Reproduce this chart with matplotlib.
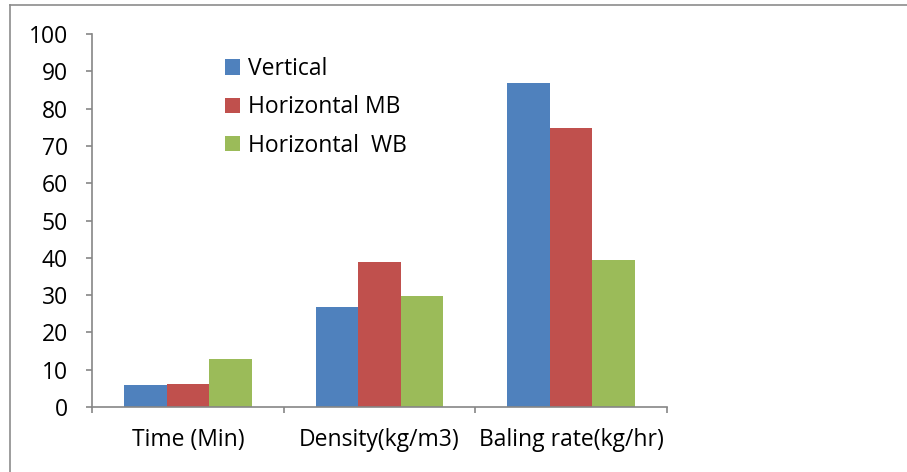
import matplotlib.pyplot as plt
import numpy as np
from matplotlib.lines import Line2D

categories = ['Time (Min)', 'Density(kg/m3)', 'Baling rate(kg/hr)']
series = ['Vertical', 'Horizontal MB', 'Horizontal  WB']
vertical = [5.9, 26.8, 86.8]
horizontal_mb = [6.3, 39.0, 74.8]
horizontal_wb = [12.9, 29.7, 39.5]
colors = ['#4f81bd', '#c0504d', '#9bbb59']

plt.rcParams['font.family'] = ['Open Sans', 'DejaVu Sans']
fs = 16.5

W, H = 907, 472
fig = plt.figure(figsize=(W / 100, H / 100), dpi=100)
ax = fig.add_axes([92 / W, (H - 407) / H, (667 - 92) / W, (407 - 34) / H])

x = np.arange(len(categories))
width = 1 / 4.5
for i, (vals, name) in enumerate(zip([vertical, horizontal_mb, horizontal_wb], series)):
    ax.bar(x + (i - 1) * width, vals, width, color=colors[i], label=name)

ax.set_xlim(-0.5, 2.5)
ax.set_ylim(0, 100)
ax.set_yticks(range(0, 101, 10))
ax.set_xticks(x)
ax.set_xticklabels(categories, fontsize=fs)
ax.set_xticks([-0.5, 0.5, 1.5, 2.5], minor=True)
ax.tick_params(axis='x', which='major', length=0, pad=15)
ax.tick_params(axis='x', which='minor', length=4.5, color='#868686', width=1.2)
ax.tick_params(axis='y', length=4.5, color='#868686', width=1.2, labelsize=fs, pad=13)
for s in ['top', 'right']:
    ax.spines[s].set_visible(False)
for s in ['left', 'bottom']:
    ax.spines[s].set_color('#868686')
    ax.spines[s].set_linewidth(1.2)

ax.legend(loc='upper left', bbox_to_anchor=(225 / W, 1 - 57 / H), bbox_transform=fig.transFigure,
          frameon=False, fontsize=fs, handlelength=0.65, handleheight=0.65, handletextpad=0.35,
          labelspacing=0.63, borderaxespad=0, borderpad=0)

# outer chart border (top and left only visible)
fig.add_artist(Line2D([10 / W, 1], [1 - 5 / H, 1 - 5 / H], color='#8c8c8c', lw=1.2))
fig.add_artist(Line2D([10 / W, 10 / W], [0, 1 - 5 / H], color='#8c8c8c', lw=1.2))

fig.savefig('out.png', dpi=100)
